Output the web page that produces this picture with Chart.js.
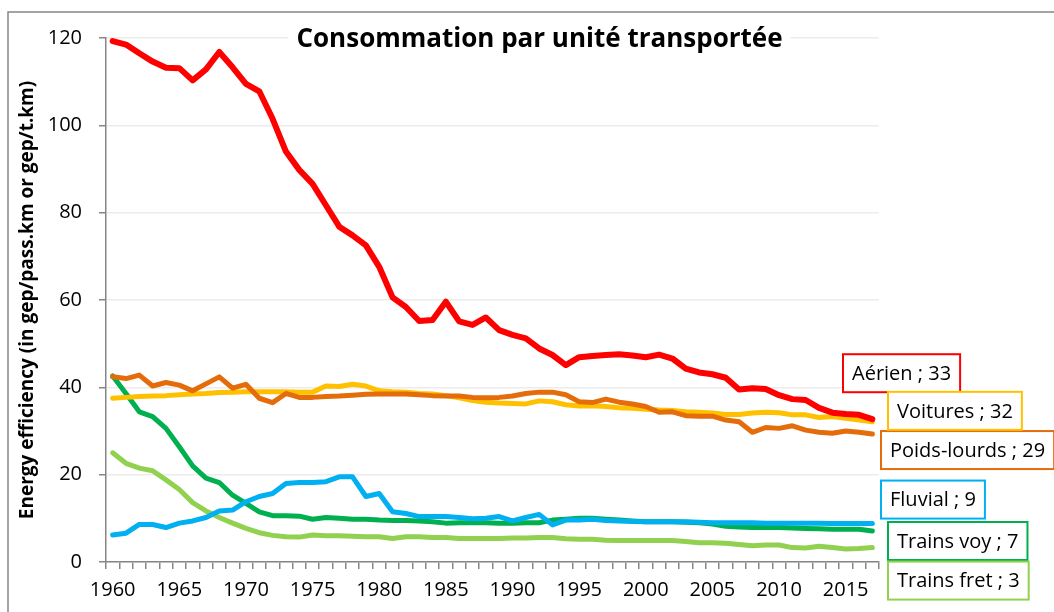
<!DOCTYPE html>
<html>
<head>
<meta charset="utf-8">
<script src="https://cdn.jsdelivr.net/npm/chart.js@4"></script>
<style>
  html, body { margin: 0; padding: 0; background: #fff; }
  canvas { display: block; }
</style>
</head>
<body>
<canvas id="chart" width="1054" height="612"></canvas>
<script>
const years = [
  1960, 1961, 1962, 1963, 1964, 1965, 1966, 1967, 1968, 1969,
  1970, 1971, 1972, 1973, 1974, 1975, 1976, 1977, 1978, 1979,
  1980, 1981, 1982, 1983, 1984, 1985, 1986, 1987, 1988, 1989,
  1990, 1991, 1992, 1993, 1994, 1995, 1996, 1997, 1998, 1999,
  2000, 2001, 2002, 2003, 2004, 2005, 2006, 2007, 2008, 2009,
  2010, 2011, 2012, 2013, 2014, 2015, 2016, 2017,
];

const aerien = [
  119.3, 118.5, 116.5, 114.6, 113.2, 113.1, 110.3, 112.8, 116.8, 113.3,
  109.5, 107.8, 101.5, 94.0, 89.8, 86.6, 81.7, 76.8, 74.8, 72.5,
  67.6, 60.6, 58.4, 55.2, 55.4, 59.6, 55.1, 54.3, 56.0, 53.1,
  52.0, 51.2, 48.9, 47.4, 45.1, 46.9, 47.2, 47.4, 47.6, 47.3,
  46.9, 47.5, 46.6, 44.3, 43.4, 43.0, 42.2, 39.5, 39.8, 39.6,
  38.2, 37.3, 37.1, 35.3, 34.2, 33.9, 33.7, 32.7,
];

const voitures = [
  37.5, 37.7, 37.9, 38.0, 38.1, 38.3, 38.5, 38.6, 38.8, 38.9,
  39.0, 39.0, 39.0, 39.0, 38.9, 38.9, 40.3, 40.2, 40.7, 40.3,
  39.2, 39.0, 38.9, 38.6, 38.5, 38.1, 37.6, 37.0, 36.6, 36.4,
  36.3, 36.2, 36.9, 36.7, 36.0, 35.7, 35.8, 35.6, 35.3, 35.2,
  35.0, 34.8, 34.7, 34.4, 34.3, 34.1, 33.8, 33.8, 34.1, 34.3,
  34.2, 33.7, 33.7, 33.1, 33.3, 32.9, 32.5, 32.1,
];

const poidsLourds = [
  42.4, 42.0, 42.8, 40.3, 41.1, 40.5, 39.2, 40.8, 42.4, 39.8,
  40.7, 37.5, 36.5, 38.6, 37.7, 37.7, 37.9, 38.0, 38.2, 38.4,
  38.5, 38.5, 38.5, 38.3, 38.1, 38.0, 38.0, 37.7, 37.6, 37.7,
  38.0, 38.6, 38.9, 38.9, 38.3, 36.7, 36.5, 37.3, 36.6, 36.2,
  35.6, 34.3, 34.4, 33.5, 33.4, 33.4, 32.5, 32.1, 29.7, 30.8,
  30.6, 31.2, 30.2, 29.7, 29.5, 30.0, 29.7, 29.3,
];

const fluvial = [
  6.2, 6.6, 8.6, 8.6, 7.9, 8.9, 9.4, 10.2, 11.7, 11.9,
  13.8, 15.0, 15.7, 18.0, 18.2, 18.2, 18.4, 19.5, 19.5, 15.0,
  15.7, 11.5, 11.1, 10.4, 10.4, 10.4, 10.2, 9.9, 10.0, 10.4,
  9.4, 10.2, 10.9, 8.5, 9.6, 9.6, 9.8, 9.5, 9.4, 9.3,
  9.2, 9.2, 9.2, 9.2, 9.1, 9.0, 9.0, 9.0, 9.0, 8.9,
  8.9, 8.9, 8.9, 8.9, 8.8, 8.8, 8.8, 8.8,
];

const trainsVoy = [
  42.6, 38.6, 34.4, 33.3, 30.6, 26.4, 22.0, 19.2, 18.2, 15.3,
  13.4, 11.5, 10.6, 10.6, 10.5, 9.8, 10.2, 10.0, 9.8, 9.8,
  9.6, 9.5, 9.5, 9.4, 9.2, 8.9, 9.0, 9.0, 9.0, 8.9,
  8.9, 9.0, 9.0, 9.6, 9.8, 10.0, 10.0, 9.8, 9.6, 9.4,
  9.2, 9.2, 9.2, 9.1, 9.0, 8.7, 8.2, 8.0, 7.9, 7.9,
  7.9, 7.8, 7.7, 7.6, 7.5, 7.5, 7.5, 7.1,
];

const trainsFret = [
  25.0, 22.6, 21.5, 20.9, 18.8, 16.6, 13.6, 11.7, 10.2, 8.9,
  7.7, 6.7, 6.1, 5.8, 5.7, 6.2, 6.0, 6.0, 5.9, 5.8,
  5.8, 5.4, 5.8, 5.8, 5.6, 5.6, 5.4, 5.4, 5.4, 5.4,
  5.5, 5.5, 5.6, 5.6, 5.3, 5.2, 5.2, 5.0, 4.9, 4.9,
  4.9, 4.9, 4.9, 4.7, 4.4, 4.4, 4.3, 4.0, 3.7, 3.9,
  3.9, 3.3, 3.2, 3.6, 3.3, 3.0, 3.1, 3.3,
];

const yTicks = [0, 20, 40, 60, 80, 100, 120];

const FONT = "'Open Sans', sans-serif";
const axisGray = "#868686";
const titleText = "Consommation par unité transportée";

// end labels: offset of the box from the last point (dx from plot right, dy in px)
const endLabels = [
  { dx: -36, dy: -46 },
  { dx: 2, dy: 16 },
  { dx: 9, dy: -11 },
  { dx: 2, dy: -24 },
  { dx: 9, dy: 10 },
  { dx: 9, dy: 33 },
];

function line(label, values, color, width) {
  return {
    label: label,
    data: values,
    borderColor: color,
    backgroundColor: color,
    borderWidth: width,
    pointRadius: 0,
    tension: 0,
    fill: false,
    borderJoinStyle: "round",
    borderCapStyle: "round",
  };
}

// frame, title on a white box, end labels
const decor = {
  id: "decor",
  beforeDraw(chart) {
    const ctx = chart.ctx;
    ctx.save();
    ctx.strokeStyle = axisGray;
    ctx.lineWidth = 1.5;
    ctx.beginPath();
    ctx.moveTo(8, chart.height);
    ctx.lineTo(8, 12);
    ctx.lineTo(chart.width, 12);
    ctx.stroke();
    ctx.restore();
  },
  beforeDatasetsDraw(chart) {
    const ctx = chart.ctx;
    const a = chart.chartArea;
    const cx = (a.left + a.right) / 2 + 47;
    ctx.save();
    ctx.font = "bold 26px " + FONT;
    const w = ctx.measureText(titleText).width;
    ctx.fillStyle = "#fff";
    ctx.fillRect(cx - w / 2 - 8, a.top - 14, w + 16, 26);
    ctx.fillStyle = "#000";
    ctx.textAlign = "center";
    ctx.textBaseline = "alphabetic";
    ctx.fillText(titleText, cx, a.top + 9);
    ctx.restore();
  },
  afterDatasetsDraw(chart) {
    const ctx = chart.ctx;
    const a = chart.chartArea;
    ctx.save();
    ctx.font = "20px " + FONT;
    chart.data.datasets.forEach((ds, i) => {
      const meta = chart.getDatasetMeta(i);
      const last = meta.data[meta.data.length - 1];
      const txt = ds.label + " ; " + Math.round(ds.data[ds.data.length - 1]);
      const w = ctx.measureText(txt).width + 18;
      const h = 38;
      const x = a.right + endLabels[i].dx;
      const y = last.y + endLabels[i].dy - h / 2;
      ctx.fillStyle = "#fff";
      ctx.fillRect(x, y, w, h);
      ctx.strokeStyle = ds.borderColor;
      ctx.lineWidth = 2;
      ctx.strokeRect(x, y, w, h);
      ctx.fillStyle = "#000";
      ctx.textAlign = "left";
      ctx.textBaseline = "middle";
      ctx.fillText(txt, x + 9, y + h / 2 + 1);
    });
    ctx.restore();
  },
};

new Chart(document.getElementById("chart"), {
  type: "line",
  data: {
    labels: years,
    datasets: [
      line("Aérien", aerien, "#ff0000", 6),
      line("Poids-lourds", poidsLourds, "#e46c0a", 5),
      line("Voitures", voitures, "#ffc000", 5),
      line("Fluvial", fluvial, "#00b0f0", 5),
      line("Trains voy", trainsVoy, "#00b050", 5),
      line("Trains fret", trainsFret, "#92d050", 5),
    ],
  },
  options: {
    responsive: false,
    animation: false,
    devicePixelRatio: 1,
    layout: { padding: { top: 38, right: 175, bottom: 0, left: 10 } },
    plugins: {
      legend: { display: false },
      tooltip: { enabled: false },
    },
    scales: {
      x: {
        type: "category",
        offset: true,
        grid: {
          offset: true,
          drawOnChartArea: false,
          drawTicks: true,
          tickLength: 7,
          color: axisGray,
          lineWidth: 1.5,
        },
        border: { color: axisGray, width: 1.5 },
        ticks: {
          autoSkip: false,
          maxRotation: 0,
          padding: 9,
          color: "#000",
          font: { family: FONT, size: 20 },
          callback: function (value, index) {
            const yr = years[index];
            return yr % 5 === 0 ? String(yr) : "";
          },
        },
        afterFit(scale) { scale.height = 50; },
      },
      y: {
        min: yTicks[0],
        max: yTicks[yTicks.length - 1],
        afterBuildTicks(scale) {
          scale.ticks = yTicks.map((v) => ({ value: v }));
        },
        grid: {
          color: "#ececec",
          lineWidth: 1.5,
          tickColor: axisGray,
          tickLength: 7,
        },
        border: { color: axisGray, width: 1.5 },
        ticks: {
          padding: 17,
          color: "#000",
          font: { family: FONT, size: 20 },
        },
        title: {
          display: true,
          text: "Energy efficiency (in gep/pass.km or gep/t.km)",
          color: "#000",
          font: { family: FONT, size: 19, weight: "bold" },
          padding: { top: 6, bottom: 0 },
        },
        afterFit(scale) { scale.width = 96; },
      },
    },
  },
  plugins: [decor],
});
</script>
</body>
</html>
